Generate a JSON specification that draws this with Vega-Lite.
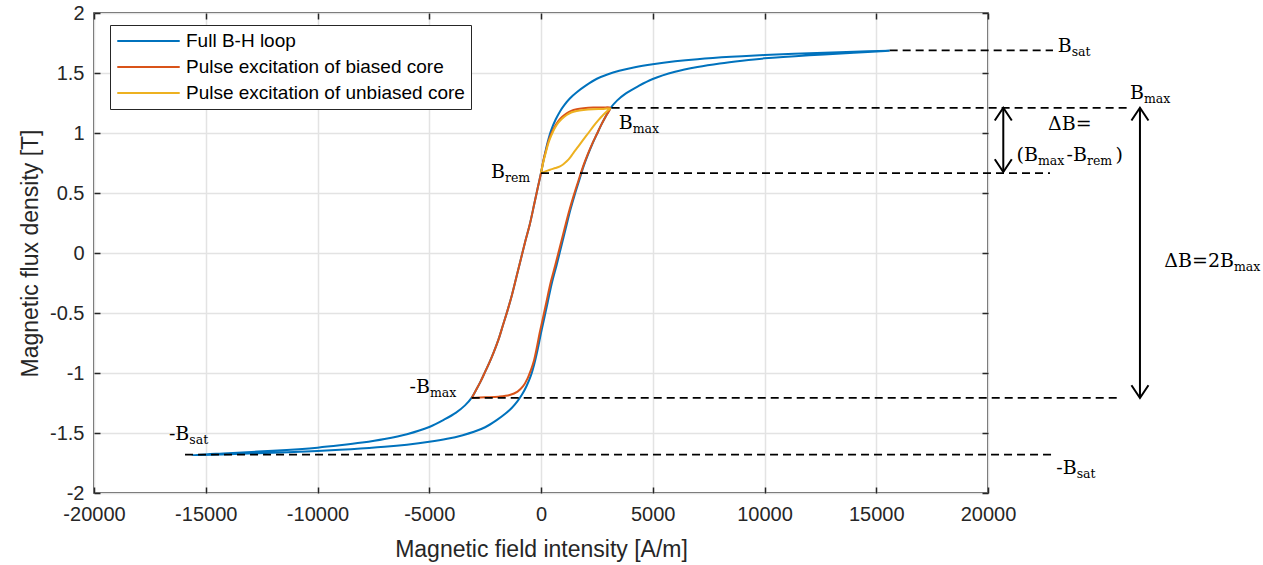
{
  "$schema": "https://vega.github.io/schema/vega-lite/v6.json",
  "width": 894,
  "height": 480,
  "autosize": {"type": "none"},
  "padding": {"left": 94, "top": 13, "right": 275, "bottom": 72},
  "background": "white",
  "config": {
    "view": {"stroke": "#262626", "strokeWidth": 1.5},
    "axis": {
      "domain": false,
      "labelFont": "Liberation Sans",
      "titleFont": "Liberation Sans",
      "labelColor": "#262626",
      "titleColor": "#262626",
      "tickColor": "#262626",
      "tickWidth": 1.5,
      "gridColor": "#e3e3e3",
      "gridWidth": 1.5,
      "titleFontWeight": "normal",
      "labelFontSize": 20,
      "titleFontSize": 23
    }
  },
  "datasets": {
    "curves": [
      {"s": "Full B-H loop", "i": 0, "H": 15600, "B": 1.685},
      {"s": "Full B-H loop", "i": 1, "H": 14000, "B": 1.677},
      {"s": "Full B-H loop", "i": 2, "H": 12000, "B": 1.665},
      {"s": "Full B-H loop", "i": 3, "H": 10000, "B": 1.65},
      {"s": "Full B-H loop", "i": 4, "H": 8500, "B": 1.635},
      {"s": "Full B-H loop", "i": 5, "H": 7000, "B": 1.615},
      {"s": "Full B-H loop", "i": 6, "H": 6000, "B": 1.597},
      {"s": "Full B-H loop", "i": 7, "H": 5000, "B": 1.573},
      {"s": "Full B-H loop", "i": 8, "H": 4200, "B": 1.548},
      {"s": "Full B-H loop", "i": 9, "H": 3500, "B": 1.518},
      {"s": "Full B-H loop", "i": 10, "H": 3000, "B": 1.49},
      {"s": "Full B-H loop", "i": 11, "H": 2500, "B": 1.452},
      {"s": "Full B-H loop", "i": 12, "H": 2000, "B": 1.395},
      {"s": "Full B-H loop", "i": 13, "H": 1600, "B": 1.34},
      {"s": "Full B-H loop", "i": 14, "H": 1300, "B": 1.29},
      {"s": "Full B-H loop", "i": 15, "H": 1050, "B": 1.235},
      {"s": "Full B-H loop", "i": 16, "H": 850, "B": 1.18},
      {"s": "Full B-H loop", "i": 17, "H": 650, "B": 1.11},
      {"s": "Full B-H loop", "i": 18, "H": 450, "B": 1.02},
      {"s": "Full B-H loop", "i": 19, "H": 300, "B": 0.925},
      {"s": "Full B-H loop", "i": 20, "H": 150, "B": 0.805},
      {"s": "Full B-H loop", "i": 21, "H": 0, "B": 0.666},
      {"s": "Full B-H loop", "i": 22, "H": -150, "B": 0.54},
      {"s": "Full B-H loop", "i": 23, "H": -300, "B": 0.41},
      {"s": "Full B-H loop", "i": 24, "H": -500, "B": 0.24},
      {"s": "Full B-H loop", "i": 25, "H": -700, "B": 0.1},
      {"s": "Full B-H loop", "i": 26, "H": -900, "B": -0.05},
      {"s": "Full B-H loop", "i": 27, "H": -1100, "B": -0.2},
      {"s": "Full B-H loop", "i": 28, "H": -1300, "B": -0.35},
      {"s": "Full B-H loop", "i": 29, "H": -1500, "B": -0.48},
      {"s": "Full B-H loop", "i": 30, "H": -1700, "B": -0.6},
      {"s": "Full B-H loop", "i": 31, "H": -1900, "B": -0.72},
      {"s": "Full B-H loop", "i": 32, "H": -2100, "B": -0.82},
      {"s": "Full B-H loop", "i": 33, "H": -2300, "B": -0.91},
      {"s": "Full B-H loop", "i": 34, "H": -2500, "B": -0.99},
      {"s": "Full B-H loop", "i": 35, "H": -2700, "B": -1.07},
      {"s": "Full B-H loop", "i": 36, "H": -2900, "B": -1.14},
      {"s": "Full B-H loop", "i": 37, "H": -3100, "B": -1.205},
      {"s": "Full B-H loop", "i": 38, "H": -3400, "B": -1.27},
      {"s": "Full B-H loop", "i": 39, "H": -3800, "B": -1.33},
      {"s": "Full B-H loop", "i": 40, "H": -4300, "B": -1.385},
      {"s": "Full B-H loop", "i": 41, "H": -5000, "B": -1.45},
      {"s": "Full B-H loop", "i": 42, "H": -6000, "B": -1.51},
      {"s": "Full B-H loop", "i": 43, "H": -7000, "B": -1.55},
      {"s": "Full B-H loop", "i": 44, "H": -8000, "B": -1.58},
      {"s": "Full B-H loop", "i": 45, "H": -9000, "B": -1.603},
      {"s": "Full B-H loop", "i": 46, "H": -10000, "B": -1.622},
      {"s": "Full B-H loop", "i": 47, "H": -12000, "B": -1.648},
      {"s": "Full B-H loop", "i": 48, "H": -14000, "B": -1.668},
      {"s": "Full B-H loop", "i": 49, "H": -15600, "B": -1.685},
      {"s": "Full B-H loop", "i": 50, "H": -14000, "B": -1.677},
      {"s": "Full B-H loop", "i": 51, "H": -12000, "B": -1.665},
      {"s": "Full B-H loop", "i": 52, "H": -10000, "B": -1.65},
      {"s": "Full B-H loop", "i": 53, "H": -8500, "B": -1.635},
      {"s": "Full B-H loop", "i": 54, "H": -7000, "B": -1.615},
      {"s": "Full B-H loop", "i": 55, "H": -6000, "B": -1.597},
      {"s": "Full B-H loop", "i": 56, "H": -5000, "B": -1.573},
      {"s": "Full B-H loop", "i": 57, "H": -4200, "B": -1.548},
      {"s": "Full B-H loop", "i": 58, "H": -3500, "B": -1.518},
      {"s": "Full B-H loop", "i": 59, "H": -3000, "B": -1.49},
      {"s": "Full B-H loop", "i": 60, "H": -2500, "B": -1.452},
      {"s": "Full B-H loop", "i": 61, "H": -2000, "B": -1.395},
      {"s": "Full B-H loop", "i": 62, "H": -1600, "B": -1.34},
      {"s": "Full B-H loop", "i": 63, "H": -1300, "B": -1.29},
      {"s": "Full B-H loop", "i": 64, "H": -1050, "B": -1.235},
      {"s": "Full B-H loop", "i": 65, "H": -850, "B": -1.18},
      {"s": "Full B-H loop", "i": 66, "H": -650, "B": -1.11},
      {"s": "Full B-H loop", "i": 67, "H": -450, "B": -1.02},
      {"s": "Full B-H loop", "i": 68, "H": -300, "B": -0.925},
      {"s": "Full B-H loop", "i": 69, "H": -150, "B": -0.805},
      {"s": "Full B-H loop", "i": 70, "H": 0, "B": -0.666},
      {"s": "Full B-H loop", "i": 71, "H": 150, "B": -0.54},
      {"s": "Full B-H loop", "i": 72, "H": 300, "B": -0.41},
      {"s": "Full B-H loop", "i": 73, "H": 500, "B": -0.24},
      {"s": "Full B-H loop", "i": 74, "H": 700, "B": -0.1},
      {"s": "Full B-H loop", "i": 75, "H": 900, "B": 0.05},
      {"s": "Full B-H loop", "i": 76, "H": 1100, "B": 0.2},
      {"s": "Full B-H loop", "i": 77, "H": 1300, "B": 0.35},
      {"s": "Full B-H loop", "i": 78, "H": 1500, "B": 0.48},
      {"s": "Full B-H loop", "i": 79, "H": 1700, "B": 0.6},
      {"s": "Full B-H loop", "i": 80, "H": 1900, "B": 0.72},
      {"s": "Full B-H loop", "i": 81, "H": 2100, "B": 0.82},
      {"s": "Full B-H loop", "i": 82, "H": 2300, "B": 0.91},
      {"s": "Full B-H loop", "i": 83, "H": 2500, "B": 0.99},
      {"s": "Full B-H loop", "i": 84, "H": 2700, "B": 1.07},
      {"s": "Full B-H loop", "i": 85, "H": 2900, "B": 1.14},
      {"s": "Full B-H loop", "i": 86, "H": 3100, "B": 1.205},
      {"s": "Full B-H loop", "i": 87, "H": 3400, "B": 1.27},
      {"s": "Full B-H loop", "i": 88, "H": 3800, "B": 1.33},
      {"s": "Full B-H loop", "i": 89, "H": 4300, "B": 1.385},
      {"s": "Full B-H loop", "i": 90, "H": 5000, "B": 1.45},
      {"s": "Full B-H loop", "i": 91, "H": 6000, "B": 1.51},
      {"s": "Full B-H loop", "i": 92, "H": 7000, "B": 1.55},
      {"s": "Full B-H loop", "i": 93, "H": 8000, "B": 1.58},
      {"s": "Full B-H loop", "i": 94, "H": 9000, "B": 1.603},
      {"s": "Full B-H loop", "i": 95, "H": 10000, "B": 1.622},
      {"s": "Full B-H loop", "i": 96, "H": 12000, "B": 1.648},
      {"s": "Full B-H loop", "i": 97, "H": 14000, "B": 1.668},
      {"s": "Full B-H loop", "i": 98, "H": 15600, "B": 1.685},

      {"s": "Pulse excitation of biased core", "i": 0, "H": -3100, "B": -1.208},
      {"s": "Pulse excitation of biased core", "i": 1, "H": -2500, "B": -1.203},
      {"s": "Pulse excitation of biased core", "i": 2, "H": -1900, "B": -1.197},
      {"s": "Pulse excitation of biased core", "i": 3, "H": -1400, "B": -1.183},
      {"s": "Pulse excitation of biased core", "i": 4, "H": -1050, "B": -1.155},
      {"s": "Pulse excitation of biased core", "i": 5, "H": -800, "B": -1.11},
      {"s": "Pulse excitation of biased core", "i": 6, "H": -600, "B": -1.045},
      {"s": "Pulse excitation of biased core", "i": 7, "H": -450, "B": -0.975},
      {"s": "Pulse excitation of biased core", "i": 8, "H": -320, "B": -0.9},
      {"s": "Pulse excitation of biased core", "i": 9, "H": -200, "B": -0.8},
      {"s": "Pulse excitation of biased core", "i": 10, "H": -60, "B": -0.666},
      {"s": "Pulse excitation of biased core", "i": 11, "H": 90, "B": -0.54},
      {"s": "Pulse excitation of biased core", "i": 12, "H": 240, "B": -0.41},
      {"s": "Pulse excitation of biased core", "i": 13, "H": 440, "B": -0.24},
      {"s": "Pulse excitation of biased core", "i": 14, "H": 640, "B": -0.1},
      {"s": "Pulse excitation of biased core", "i": 15, "H": 845, "B": 0.05},
      {"s": "Pulse excitation of biased core", "i": 16, "H": 1050, "B": 0.2},
      {"s": "Pulse excitation of biased core", "i": 17, "H": 1260, "B": 0.35},
      {"s": "Pulse excitation of biased core", "i": 18, "H": 1465, "B": 0.48},
      {"s": "Pulse excitation of biased core", "i": 19, "H": 1670, "B": 0.6},
      {"s": "Pulse excitation of biased core", "i": 20, "H": 1880, "B": 0.72},
      {"s": "Pulse excitation of biased core", "i": 21, "H": 2085, "B": 0.82},
      {"s": "Pulse excitation of biased core", "i": 22, "H": 2290, "B": 0.91},
      {"s": "Pulse excitation of biased core", "i": 23, "H": 2495, "B": 0.99},
      {"s": "Pulse excitation of biased core", "i": 24, "H": 2700, "B": 1.07},
      {"s": "Pulse excitation of biased core", "i": 25, "H": 2900, "B": 1.14},
      {"s": "Pulse excitation of biased core", "i": 26, "H": 3100, "B": 1.208},
      {"s": "Pulse excitation of biased core", "i": 27, "H": 2800, "B": 1.213},
      {"s": "Pulse excitation of biased core", "i": 28, "H": 2340, "B": 1.212},
      {"s": "Pulse excitation of biased core", "i": 29, "H": 1900, "B": 1.206},
      {"s": "Pulse excitation of biased core", "i": 30, "H": 1596, "B": 1.198},
      {"s": "Pulse excitation of biased core", "i": 31, "H": 1350, "B": 1.185},
      {"s": "Pulse excitation of biased core", "i": 32, "H": 1150, "B": 1.164},
      {"s": "Pulse excitation of biased core", "i": 33, "H": 950, "B": 1.135},
      {"s": "Pulse excitation of biased core", "i": 34, "H": 775, "B": 1.1},
      {"s": "Pulse excitation of biased core", "i": 35, "H": 620, "B": 1.055},
      {"s": "Pulse excitation of biased core", "i": 36, "H": 478, "B": 1.0},
      {"s": "Pulse excitation of biased core", "i": 37, "H": 340, "B": 0.935},
      {"s": "Pulse excitation of biased core", "i": 38, "H": 224, "B": 0.855},
      {"s": "Pulse excitation of biased core", "i": 39, "H": 100, "B": 0.765},
      {"s": "Pulse excitation of biased core", "i": 40, "H": 0, "B": 0.666},
      {"s": "Pulse excitation of biased core", "i": 41, "H": -150, "B": 0.54},
      {"s": "Pulse excitation of biased core", "i": 42, "H": -300, "B": 0.41},
      {"s": "Pulse excitation of biased core", "i": 43, "H": -500, "B": 0.24},
      {"s": "Pulse excitation of biased core", "i": 44, "H": -700, "B": 0.1},
      {"s": "Pulse excitation of biased core", "i": 45, "H": -900, "B": -0.05},
      {"s": "Pulse excitation of biased core", "i": 46, "H": -1100, "B": -0.2},
      {"s": "Pulse excitation of biased core", "i": 47, "H": -1300, "B": -0.35},
      {"s": "Pulse excitation of biased core", "i": 48, "H": -1500, "B": -0.48},
      {"s": "Pulse excitation of biased core", "i": 49, "H": -1700, "B": -0.6},
      {"s": "Pulse excitation of biased core", "i": 50, "H": -1900, "B": -0.72},
      {"s": "Pulse excitation of biased core", "i": 51, "H": -2100, "B": -0.82},
      {"s": "Pulse excitation of biased core", "i": 52, "H": -2300, "B": -0.91},
      {"s": "Pulse excitation of biased core", "i": 53, "H": -2500, "B": -0.99},
      {"s": "Pulse excitation of biased core", "i": 54, "H": -2700, "B": -1.07},
      {"s": "Pulse excitation of biased core", "i": 55, "H": -2900, "B": -1.14},
      {"s": "Pulse excitation of biased core", "i": 56, "H": -3100, "B": -1.208},

      {"s": "Pulse excitation of unbiased core", "i": 0, "H": 0, "B": 0.666},
      {"s": "Pulse excitation of unbiased core", "i": 1, "H": 200, "B": 0.68},
      {"s": "Pulse excitation of unbiased core", "i": 2, "H": 403, "B": 0.694},
      {"s": "Pulse excitation of unbiased core", "i": 3, "H": 650, "B": 0.708},
      {"s": "Pulse excitation of unbiased core", "i": 4, "H": 850, "B": 0.722},
      {"s": "Pulse excitation of unbiased core", "i": 5, "H": 1000, "B": 0.74},
      {"s": "Pulse excitation of unbiased core", "i": 6, "H": 1150, "B": 0.764},
      {"s": "Pulse excitation of unbiased core", "i": 7, "H": 1300, "B": 0.795},
      {"s": "Pulse excitation of unbiased core", "i": 8, "H": 1445, "B": 0.833},
      {"s": "Pulse excitation of unbiased core", "i": 9, "H": 1680, "B": 0.89},
      {"s": "Pulse excitation of unbiased core", "i": 10, "H": 1893, "B": 0.944},
      {"s": "Pulse excitation of unbiased core", "i": 11, "H": 2120, "B": 1.0},
      {"s": "Pulse excitation of unbiased core", "i": 12, "H": 2340, "B": 1.055},
      {"s": "Pulse excitation of unbiased core", "i": 13, "H": 2560, "B": 1.105},
      {"s": "Pulse excitation of unbiased core", "i": 14, "H": 2790, "B": 1.152},
      {"s": "Pulse excitation of unbiased core", "i": 15, "H": 3000, "B": 1.19},
      {"s": "Pulse excitation of unbiased core", "i": 16, "H": 3100, "B": 1.205},
      {"s": "Pulse excitation of unbiased core", "i": 17, "H": 2800, "B": 1.2},
      {"s": "Pulse excitation of unbiased core", "i": 18, "H": 2340, "B": 1.198},
      {"s": "Pulse excitation of unbiased core", "i": 19, "H": 1900, "B": 1.192},
      {"s": "Pulse excitation of unbiased core", "i": 20, "H": 1596, "B": 1.184},
      {"s": "Pulse excitation of unbiased core", "i": 21, "H": 1350, "B": 1.171},
      {"s": "Pulse excitation of unbiased core", "i": 22, "H": 1150, "B": 1.15},
      {"s": "Pulse excitation of unbiased core", "i": 23, "H": 950, "B": 1.121},
      {"s": "Pulse excitation of unbiased core", "i": 24, "H": 775, "B": 1.086},
      {"s": "Pulse excitation of unbiased core", "i": 25, "H": 620, "B": 1.041},
      {"s": "Pulse excitation of unbiased core", "i": 26, "H": 478, "B": 0.986},
      {"s": "Pulse excitation of unbiased core", "i": 27, "H": 340, "B": 0.921},
      {"s": "Pulse excitation of unbiased core", "i": 28, "H": 224, "B": 0.843},
      {"s": "Pulse excitation of unbiased core", "i": 29, "H": 100, "B": 0.755},
      {"s": "Pulse excitation of unbiased core", "i": 30, "H": 0, "B": 0.666}
    ],
    "refs": [
      {"name": "Bsat", "x1": 15600, "x2": 22907, "y": 1.688},
      {"name": "Bmax", "x1": 3160, "x2": 26204, "y": 1.21},
      {"name": "Brem", "x1": 0, "x2": 22773, "y": 0.666},
      {"name": "-Bmax", "x1": -3100, "x2": 25904, "y": -1.208},
      {"name": "-Bsat", "x1": -15927, "x2": 22996, "y": -1.68}
    ],
    "arrows": [
      {"x": 20684, "y1": 1.21, "y2": 0.675},
      {"x": 26799, "y1": 1.21, "y2": -1.208}
    ],
    "heads": [
      {"x": 20684, "y": 1.21, "dir": "up"},
      {"x": 20684, "y": 0.675, "dir": "down"},
      {"x": 26799, "y": 1.21, "dir": "up"},
      {"x": 26799, "y": -1.208, "dir": "down"}
    ],
    "labels": [
      {"x": 23744, "y": 1.675, "main": "B", "sub": "sat"},
      {"x": 26978, "y": 1.283, "main": "B", "sub": "max"},
      {"x": 24639, "y": 1.0275, "main": "ΔB=", "sub": ""},
      {"x": 22236, "y": 0.763, "main": "(B", "sub": "max"},
      {"x": 24428, "y": 0.763, "main": "-B", "sub": "rem"},
      {"x": 26039, "y": 0.763, "main": ")", "sub": ""},
      {"x": 31005, "y": -0.117, "main": "ΔB=2B", "sub": "max"},
      {"x": 23968, "y": -1.839, "main": "-B", "sub": "sat"},
      {"x": -1611, "y": 0.625, "main": "B", "sub": "rem"},
      {"x": 4103, "y": 1.033, "main": "B", "sub": "max"},
      {"x": -4966, "y": -1.167, "main": "-B", "sub": "max"},
      {"x": -15735, "y": -1.562, "main": "-B", "sub": "sat"}
    ]
  },
  "layer": [
    {
      "data": {"name": "curves"},
      "mark": {"type": "line", "strokeWidth": 2, "interpolate": "catmull-rom", "clip": false},
      "encoding": {
        "x": {
          "field": "H", "type": "quantitative",
          "scale": {"domain": [-20000, 20000], "nice": false, "zero": false},
          "axis": {
            "orient": "bottom",
            "values": [-20000, -15000, -10000, -5000, 0, 5000, 10000, 15000, 20000],
            "format": "d",
            "labelExpr": "replace(datum.label, '−', '-')",
            "tickSize": -6,
            "labelPadding": 17,
            "labelFlush": false,
            "labelOverlap": false,
            "grid": true,
            "title": "Magnetic field intensity [A/m]",
            "titleX": 447,
            "titleY": 63,
            "titleAlign": "center",
            "titleBaseline": "alphabetic"
          }
        },
        "y": {
          "field": "B", "type": "quantitative",
          "scale": {"domain": [-2, 2], "nice": false, "zero": false},
          "axis": {
            "orient": "left",
            "values": [-2, -1.5, -1, -0.5, 0, 0.5, 1, 1.5, 2],
            "format": ".1~f",
            "labelExpr": "replace(datum.label, '−', '-')",
            "tickSize": -6,
            "labelPadding": 16,
            "labelFlush": false,
            "labelOverlap": false,
            "grid": true,
            "title": "Magnetic flux density [T]",
            "titleX": -57,
            "titleY": 240,
            "titleAngle": -90,
            "titleAlign": "center",
            "titleBaseline": "alphabetic"
          }
        },
        "color": {
          "field": "s", "type": "nominal",
          "scale": {
            "domain": ["Full B-H loop", "Pulse excitation of biased core", "Pulse excitation of unbiased core"],
            "range": ["#0072BD", "#D95319", "#EDB120"]
          },
          "legend": {
            "orient": "none",
            "legendX": 16,
            "legendY": 12,
            "title": null,
            "symbolType": "stroke",
            "symbolSize": 3900,
            "symbolStrokeWidth": 2,
            "labelFont": "Liberation Sans",
            "labelFontSize": 19,
            "labelColor": "#000000",
            "labelOffset": 5,
            "labelLimit": 400,
            "strokeColor": "#262626",
            "fillColor": "white",
            "padding": 6,
            "clipHeight": 20,
            "rowPadding": 6
          }
        },
        "order": {"field": "i", "type": "quantitative"}
      }
    },
    {
      "data": {"name": "refs"},
      "mark": {"type": "rule", "strokeDash": [8, 5], "strokeWidth": 1.8, "color": "black", "clip": false},
      "encoding": {
        "x": {
          "field": "x1", "type": "quantitative",
          "scale": {"domain": [-20000, 20000], "nice": false, "zero": false},
          "axis": {"orient": "top", "values": [-20000, -15000, -10000, -5000, 0, 5000, 10000, 15000, 20000], "labels": false, "grid": false, "title": null, "tickSize": -6}
        },
        "x2": {"field": "x2"},
        "y": {
          "field": "y", "type": "quantitative",
          "scale": {"domain": [-2, 2], "nice": false, "zero": false},
          "axis": {"orient": "right", "values": [-2, -1.5, -1, -0.5, 0, 0.5, 1, 1.5, 2], "labels": false, "grid": false, "title": null, "tickSize": -6}
        }
      }
    },
    {
      "data": {"name": "arrows"},
      "mark": {"type": "rule", "strokeWidth": 2, "color": "black", "clip": false},
      "encoding": {
        "x": {"field": "x", "type": "quantitative", "scale": {"domain": [-20000, 20000], "nice": false, "zero": false}, "axis": null},
        "y": {"field": "y1", "type": "quantitative", "scale": {"domain": [-2, 2], "nice": false, "zero": false}, "axis": null},
        "y2": {"field": "y2"}
      }
    },
    {
      "data": {"name": "heads"},
      "mark": {"type": "point", "filled": false, "color": "black", "strokeWidth": 2, "size": 289, "opacity": 1, "clip": false},
      "encoding": {
        "x": {"field": "x", "type": "quantitative", "scale": {"domain": [-20000, 20000], "nice": false, "zero": false}, "axis": null},
        "y": {"field": "y", "type": "quantitative", "scale": {"domain": [-2, 2], "nice": false, "zero": false}, "axis": null},
        "shape": {
          "field": "dir", "type": "nominal",
          "scale": {"domain": ["up", "down"], "range": ["M-1,1.5L0,0L1,1.5", "M-1,-1.5L0,0L1,-1.5"]},
          "legend": null
        }
      }
    },
    {
      "data": {"name": "labels"},
      "mark": {"type": "text", "align": "right", "baseline": "alphabetic", "font": "DejaVu Serif", "fontSize": 19, "color": "black", "clip": false},
      "encoding": {
        "x": {"field": "x", "type": "quantitative", "scale": {"domain": [-20000, 20000], "nice": false, "zero": false}, "axis": null},
        "y": {"field": "y", "type": "quantitative", "scale": {"domain": [-2, 2], "nice": false, "zero": false}, "axis": null},
        "text": {"field": "main"}
      }
    },
    {
      "data": {"name": "labels"},
      "mark": {"type": "text", "align": "left", "baseline": "alphabetic", "font": "DejaVu Serif", "fontSize": 12.5, "dy": 4, "color": "black", "clip": false},
      "encoding": {
        "x": {"field": "x", "type": "quantitative", "scale": {"domain": [-20000, 20000], "nice": false, "zero": false}, "axis": null},
        "y": {"field": "y", "type": "quantitative", "scale": {"domain": [-2, 2], "nice": false, "zero": false}, "axis": null},
        "text": {"field": "sub"}
      }
    }
  ],
  "resolve": {"axis": {"x": "independent", "y": "independent"}}
}
